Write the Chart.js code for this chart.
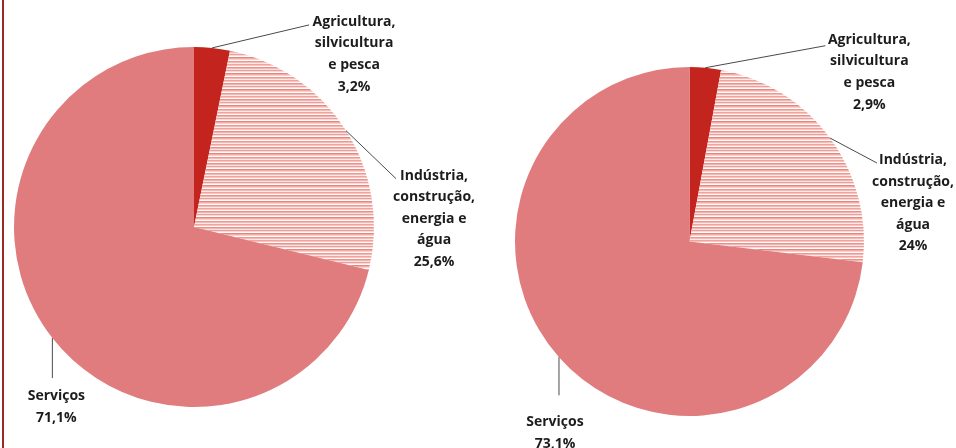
<!DOCTYPE html>
<html lang="pt">
<head>
<meta charset="utf-8">
<script src="https://cdn.jsdelivr.net/npm/chart.js@4"></script>
<style>
  html, body { margin: 0; padding: 0; background: #fff; }
  body { width: 956px; height: 448px; position: relative; overflow: hidden; }
  .borda { position: absolute; left: 2px; top: 0; width: 2px; height: 448px; background: #9b2a24; }
  .painel { position: absolute; top: 0; height: 448px; }
</style>
</head>
<body>
<div class="borda"></div>
<div class="painel" style="left:0;width:480px"><canvas id="graficoA"></canvas></div>
<div class="painel" style="left:480px;width:476px"><canvas id="graficoB"></canvas></div>
<script>
// setores e participação (%) em cada gráfico
const categorias = ['Agricultura, silvicultura e pesca', 'Indústria, construção, energia e água', 'Serviços'];
const rotulos = [
    ['Agricultura,', 'silvicultura', 'e pesca'],
    ['Indústria,', 'construção,', 'energia e', 'água'],
    ['Serviços']
];
const valoresA = [3.2, 25.6, 71.1];
const valoresB = [2.9, 24, 73.1];

// listras da fatia da indústria
function criaListras() {
    const c = document.createElement('canvas');
    c.width = 8; c.height = 16;
    const g = c.getContext('2d');
    const cores = ['#f2a39c', '#f7c4bd', '#ffffff', '#ec8f8a', '#f5b7ae', '#e9e4ee',
                   '#f09d96', '#fbdad5', '#ffffff', '#e8837f', '#f4aea7', '#f9cfca',
                   '#ffffff', '#ee9790', '#f6bcb5', '#fde9e6'];
    cores.forEach(function (cor, i) { g.fillStyle = cor; g.fillRect(0, i, 8, 1); });
    return g.createPattern(c, 'repeat');
}

const pluginRotulos = {
    id: 'rotulos',
    afterDraw: function (chart, args, opts) {
        const ctx = chart.ctx;
        const meta = chart.getDatasetMeta(0);
        const valores = chart.data.datasets[0].data;
        ctx.save();
        meta.data.forEach(function (arc, i) {
            const p = arc.getProps(['x', 'y', 'startAngle', 'endAngle', 'outerRadius'], true);
            const meio = (p.startAngle + p.endAngle) / 2;
            const x0 = p.x + Math.cos(meio) * p.outerRadius;
            const y0 = p.y + Math.sin(meio) * p.outerRadius;
            const pos = opts.posicoes[i];
            const x1 = x0 + pos.linha[0];
            const y1 = y0 + pos.linha[1];
            ctx.strokeStyle = '#4a4a4a';
            ctx.lineWidth = 1;
            ctx.beginPath();
            ctx.moveTo(x0, y0);
            ctx.lineTo(x1, y1);
            ctx.stroke();
            const linhas = rotulos[i].concat([valores[i].toLocaleString('pt-BR') + '%']);
            ctx.fillStyle = '#1c1c1c';
            ctx.font = 'bold 14px "Open Sans", sans-serif';
            ctx.textAlign = 'center';
            ctx.textBaseline = 'middle';
            linhas.forEach(function (t, k) {
                ctx.fillText(t, x1 + pos.texto[0], y1 + pos.texto[1] + k * 21.6);
            });
        });
        ctx.restore();
    }
};

function criaGrafico(id, valores, padding, posicoes) {
    return new Chart(document.getElementById(id), {
        type: 'pie',
        data: {
            labels: categorias,
            datasets: [{
                data: valores,
                backgroundColor: ['#c3241d', criaListras(), '#e17c7e'],
                borderWidth: 0
            }]
        },
        options: {
            responsive: true,
            maintainAspectRatio: false,
            animation: false,
            layout: { padding: padding },
            plugins: {
                legend: { display: false },
                tooltip: { enabled: false },
                rotulos: { posicoes: posicoes }
            }
        },
        plugins: [pluginRotulos]
    });
}

criaGrafico('graficoA', valoresA,
    { left: 14, top: 47, right: 106, bottom: 41 },
    [
        { linha: [97, -23], texto: [45, -3] },
        { linha: [50, 48], texto: [38, -3] },
        { linha: [0, 40], texto: [4, 18] }
    ]);

criaGrafico('graficoB', valoresB,
    { left: 35, top: 67, right: 92, bottom: 32 },
    [
        { linha: [120, -22], texto: [44, -6] },
        { linha: [47, 25], texto: [36, -3] },
        { linha: [0, 38], texto: [-4, 27] }
    ]);
</script>
</body>
</html>
